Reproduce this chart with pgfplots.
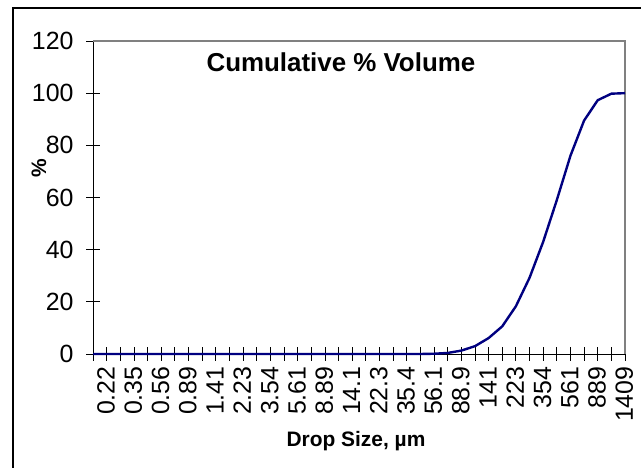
\documentclass[border=0pt]{standalone}
\usepackage{fontspec}
\setmainfont{Liberation Sans}
\usepackage{pgfplots}
\pgfplotsset{compat=1.18}
\definecolor{navyline}{RGB}{0,0,128}
\begin{document}
\begin{tikzpicture}[x=1bp,y=1bp]
\path[use as bounding box] (0,0) rectangle (641,468);
\draw[black, line width=1.2bp] (13,0) -- (13,460) -- (641,460);
\begin{axis}[
  at={(93bp,114bp)}, anchor=south west,
  scale only axis, width=532bp, height=313bp,
  xmin=0, xmax=39, ymin=0, ymax=120,
  axis x line*=bottom, axis y line*=left,
  axis line style={-, black, line width=0.8bp},
  xtick={0,...,39},
  xticklabels={0.22,,0.35,,0.56,,0.89,,1.41,,2.23,,3.54,,5.61,,8.89,,14.1,,22.3,,35.4,,56.1,,88.9,,141,,223,,354,,561,,889,,1409,},
  ytick={0,20,...,120},
  major tick length=14bp,
  tick align=center,
  tick style={black, line width=0.8bp},
  xticklabel style={rotate=90, anchor=east, font=\fontsize{25}{25}\selectfont, xshift=-2bp, yshift=-13bp},
  yticklabel style={font=\fontsize{25}{25}\selectfont, xshift=-9bp},
  /pgf/number format/assume math mode=true,
  clip=false,
]
\draw[gray, line width=1.5bp] (rel axis cs:0,1) -- (rel axis cs:1,1) -- (rel axis cs:1,0);
\addplot[navyline, line width=2.4bp, mark=none] table {
x y
0 0
1 0
2 0
3 0
4 0
5 0
6 0
7 0
8 0
9 0
10 0
11 0
12 0
13 0
14 0
15 0
16 0
17 0
18 0
19 0
20 0
21 0
22 0
23 0
24 0
25 0.1
26 0.4
27 1.3
28 3.0
29 6.1
30 10.6
31 18.3
32 29.2
33 43.0
34 59.0
35 76.0
36 89.5
37 97.3
38 99.8
39 100
};
\node[font=\bfseries\fontsize{26}{26}\selectfont] at (rel axis cs:0.466,0.933) {Cumulative \% Volume};
\end{axis}
\node[font=\bfseries\fontsize{21}{21}\selectfont] at (356,27) {Drop Size, µm};
\node[font=\bfseries\fontsize{21}{21}\selectfont, rotate=90] at (39,300) {\%};
\end{tikzpicture}
\end{document}
